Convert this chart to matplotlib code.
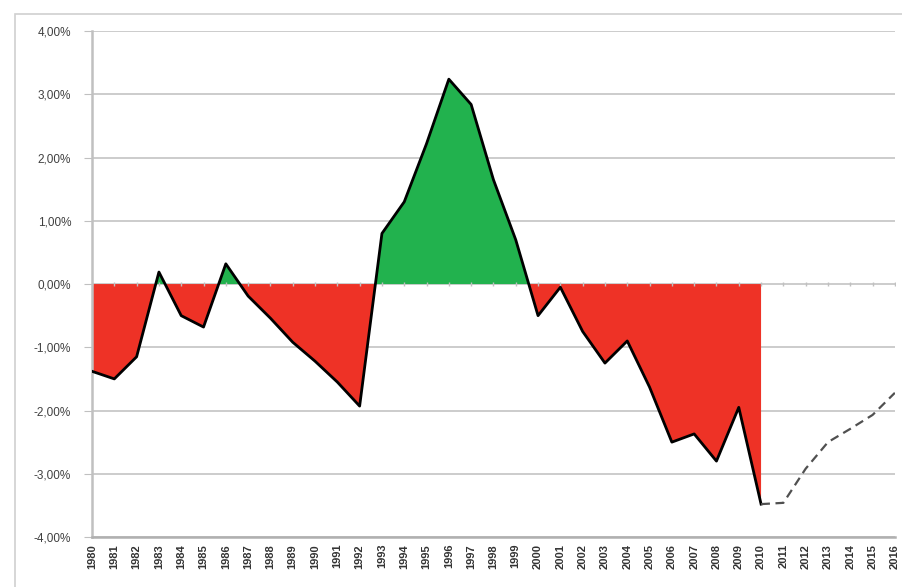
import matplotlib
matplotlib.use("Agg")
from matplotlib import pyplot as plt
from matplotlib.patches import Rectangle
from matplotlib.ticker import FuncFormatter
import numpy as np

years = list(range(1980, 2011))
values = [-1.38, -1.50, -1.15, 0.19, -0.50, -0.68, 0.32, -0.19, -0.54, -0.92,
          -1.22, -1.55, -1.93, 0.80, 1.30, 2.22, 3.24, 2.84, 1.65, 0.70,
          -0.50, -0.05, -0.75, -1.25, -0.90, -1.63, -2.50, -2.37, -2.80, -1.95,
          -3.48]

fc_years = list(range(2010, 2017))
fc_values = [-3.48, -3.46, -2.92, -2.50, -2.29, -2.07, -1.72]

red = "#EE3226"
green = "#22B24E"

plt.rcParams['font.family'] = ['Liberation Sans', 'DejaVu Sans']

fig = plt.figure(figsize=(9.03, 5.87), dpi=100)
fig.patches.append(Rectangle((0.0166, -0.1), 1.2, 1.076, transform=fig.transFigure,
                             fill=False, edgecolor="#d0d0d0", lw=1.2))
ax = fig.add_axes([0.1019, 0.0852, 0.8891, 0.8618])

y = np.array(values)
ax.fill_between(years, y, 0, where=y >= 0, interpolate=True, color=green, lw=0, zorder=2)
ax.fill_between(years, y, 0, where=y <= 0, interpolate=True, color=red, lw=0, zorder=2)
ax.plot(years, values, color="black", lw=2, zorder=4)
ax.plot(fc_years, fc_values, color="#505050", lw=1.6, ls=(0, (4, 2.5)), zorder=4)

ax.set_xlim(1980, 2016)
ax.set_ylim(-4, 4)
ax.set_yticks(range(-4, 5))
ax.yaxis.set_major_formatter(FuncFormatter(lambda v, p: ("%.2f%%" % v).replace(".", ",")))
ax.set_xticks(range(1980, 2017))
ax.set_xticklabels([str(t) for t in range(1980, 2017)], rotation=90, fontsize=8,
                   fontweight="bold", color="#333333")
ax.tick_params(axis="y", labelsize=8.5, labelcolor="#404040", length=6, color="#c0c0c0", pad=9)
ax.tick_params(axis="x", length=0, pad=5)

ax.grid(axis="y", color="#c8c8c8", lw=1.3, zorder=0)
ax.set_axisbelow(True)
for s in ["top", "right"]:
    ax.spines[s].set_visible(False)
ax.spines["left"].set_color("#c0c0c0")
ax.spines["left"].set_linewidth(1.8)
ax.spines["bottom"].set_color("#b0b0b0")
ax.spines["bottom"].set_linewidth(1.8)

# small tick marks along the zero line
ax.plot(range(1980, 2017), [0] * 37, ls="none", marker="|", ms=3, color="#c0c0c0", zorder=3)

fig.savefig("out.png", dpi=100)
